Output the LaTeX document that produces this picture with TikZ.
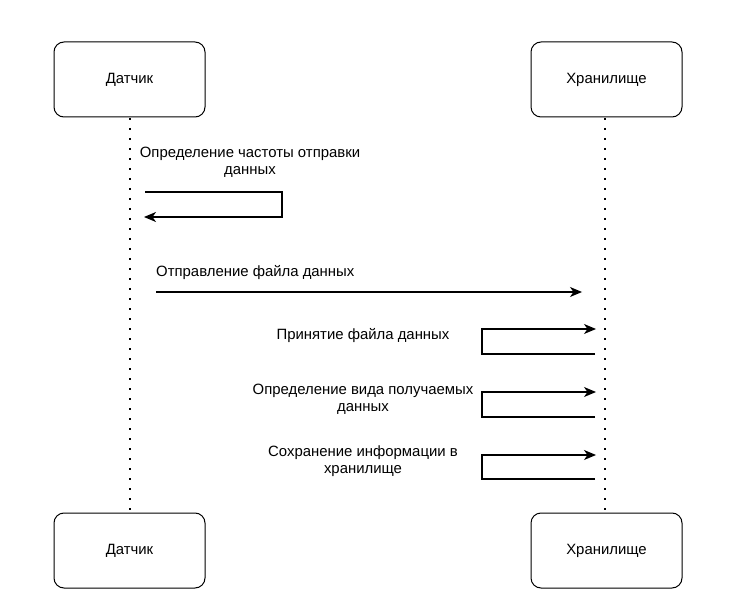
\documentclass[tikz,border=0pt]{standalone}
\usepackage{fontspec}
\setmainfont{Liberation Sans}
\usetikzlibrary{arrows.meta}
\begin{document}
\begin{tikzpicture}[x=1pt,y=-1pt,
  actor/.style={draw, line width=1pt, rounded corners=10pt, minimum width=151pt, minimum height=75pt, fill=white, inner sep=0pt, font=\fontsize{14.9}{17}\selectfont},
  lifeline/.style={line width=2pt, dash pattern=on 2pt off 8pt},
  msg/.style={line width=1.1pt, -{Stealth[length=12pt,width=10pt,inset=3.5pt]}},
  lbl/.style={font=\fontsize{14.9}{17}\selectfont, align=center, inner sep=0pt},
  txt/.style={font=\fontsize{14.9}{17}\selectfont, inner sep=0pt}
]
\useasboundingbox (0,0) rectangle (752,612);
% lifelines
\coordinate (l1top) at (130,118);
\coordinate (l1bot) at (130,513);
\coordinate (l2top) at (605,118);
\coordinate (l2bot) at (605,513);
\draw[lifeline] (l1top) -- (l1bot);
\draw[lifeline] (l2top) -- (l2bot);
% actors
\node[actor] (s1) at (129.5,79.5) {Датчик};
\node[actor] (h1) at (606.5,79.5) {Хранилище};
\node[actor] (s2) at (129.5,550.5) {Датчик};
\node[actor] (h2) at (606.5,550.5) {Хранилище};
% self message 1
\coordinate (a1) at (145,192);
\coordinate (a2) at (282,192);
\coordinate (a3) at (282,217);
\coordinate (a4) at (144,217);
\draw[msg] (a1) -- (a2) -- (a3) -- (a4);
\node[lbl] (t1) at (250,162) {Определение частоты отправки\\данных};
% message 2
\coordinate (b1) at (156,292);
\coordinate (b2) at (582,292);
\draw[msg] (b1) -- (b2);
\node[txt, anchor=west] (t2) at (156,273) {Отправление файла данных};
% self messages on right
\coordinate (c1) at (595,354);
\coordinate (c2) at (482,354);
\coordinate (c3) at (482,329);
\coordinate (c4) at (596,329);
\draw[msg] (c1) -- (c2) -- (c3) -- (c4);
\node[txt] (t3) at (363,336) {Принятие файла данных};
\coordinate (d1) at (595,417);
\coordinate (d2) at (482,417);
\coordinate (d3) at (482,392);
\coordinate (d4) at (596,392);
\draw[msg] (d1) -- (d2) -- (d3) -- (d4);
\node[lbl] (t4) at (363,399.5) {Определение вида получаемых\\данных};
\coordinate (e1) at (595,479);
\coordinate (e2) at (482,479);
\coordinate (e3) at (482,455);
\coordinate (e4) at (596,455);
\draw[msg] (e1) -- (e2) -- (e3) -- (e4);
\node[lbl] (t5) at (363,461) {Сохранение информации в\\хранилище};
\end{tikzpicture}
\end{document}
